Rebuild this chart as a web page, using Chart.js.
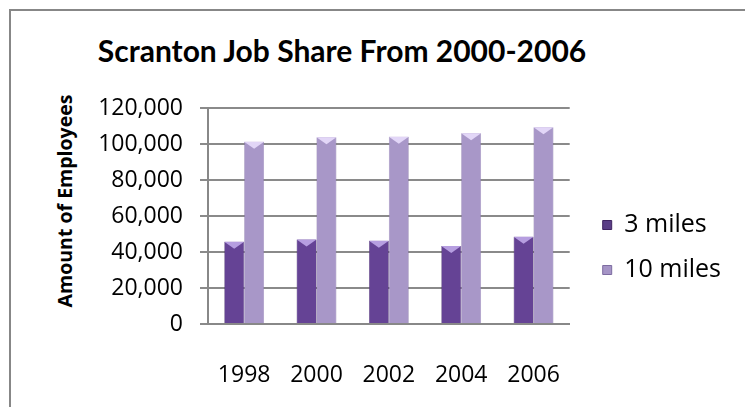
<!DOCTYPE html>
<html>
<head>
<meta charset="utf-8">
<script src="https://cdn.jsdelivr.net/npm/chart.js@4"></script>
<style>
  body { margin: 0; background: #fff; width: 745px; height: 407px; overflow: hidden; position: relative; }
  #frame { position: absolute; left: 9px; top: 9px; width: 800px; height: 500px; border: 2px solid #878787; box-sizing: border-box; }
  #title { position: absolute; left: 0; width: 684px; top: 32px; text-align: center; font: bold 30px Lato, sans-serif; color: #000; }
  #ytitle { position: absolute; left: 64px; top: 201px; transform: translate(-50%, -50%) rotate(-90deg); white-space: nowrap; font: bold 19.5px "Open Sans", sans-serif; color: #000; }
  #wrap { position: absolute; left: 10px; top: 10px; width: 735px; height: 397px; }
</style>
</head>
<body>
<div id="frame"></div>
<div id="title">Scranton Job Share From 2000-2006</div>
<div id="ytitle">Amount of Employees</div>
<div id="wrap"><canvas id="chart"></canvas></div>
<script>
const years = ['1998', '2000', '2002', '2004', '2006'];
const threeMiles = [45700, 47000, 46300, 43400, 48500];
const tenMiles = [101300, 103700, 104000, 106000, 109300];
const yTicks = [0, 20000, 40000, 60000, 80000, 100000, 120000];

const styles = {
  '3 miles': { dark: '#3f2361', mid: '#654395', top: '#b69ee0', legend: '#5a3d86' },
  '10 miles': { dark: '#7d6ca1', mid: '#a897c8', top: '#e2d6f7', legend: '#a594c6' }
};

// horizontal gradient so the bars look a bit rounded
function barFill(ctx) {
  const chart = ctx.chart;
  const bar = chart.getDatasetMeta(ctx.datasetIndex).data[ctx.dataIndex];
  const s = styles[ctx.dataset.label];
  if (!bar || bar.width === undefined || isNaN(bar.x)) return s.mid;
  const left = bar.x - bar.width / 2;
  const g = chart.ctx.createLinearGradient(left, 0, left + bar.width, 0);
  g.addColorStop(0, s.dark);
  g.addColorStop(0.3, s.mid);
  g.addColorStop(0.7, s.mid);
  g.addColorStop(1, s.dark);
  return g;
}

// lighter bevel on top of each bar
const bevel = {
  id: 'bevel',
  afterDatasetsDraw(chart) {
    const c = chart.ctx;
    chart.data.datasets.forEach((ds, i) => {
      const s = styles[ds.label];
      chart.getDatasetMeta(i).data.forEach(bar => {
        const l = bar.x - bar.width / 2, r = bar.x + bar.width / 2;
        c.save();
        c.fillStyle = s.top;
        c.beginPath();
        c.moveTo(l, bar.y);
        c.lineTo(r, bar.y);
        c.lineTo(bar.x, bar.y + 7);
        c.closePath();
        c.fill();
        c.restore();
      });
    });
  }
};

// legend sits a bit further from the plot than Chart.js puts it
const legendGap = {
  id: 'legendGap',
  afterLayout(chart) {
    chart.legend.left += 13;
    chart.legend.right += 13;
  }
};

new Chart(document.getElementById('chart'), {
  type: 'bar',
  data: {
    labels: years,
    datasets: [
      { label: '3 miles', data: threeMiles, backgroundColor: barFill, borderColor: '#3d245c', borderWidth: 0.5 },
      { label: '10 miles', data: tenMiles, backgroundColor: barFill, borderColor: '#7a699c', borderWidth: 0.5 }
    ]
  },
  options: {
    responsive: true,
    maintainAspectRatio: false,
    animation: false,
    layout: { padding: { top: 98, left: 42, right: 27, bottom: 20 } },
    datasets: { bar: { categoryPercentage: 0.55, barPercentage: 1 } },
    plugins: {
      tooltip: { enabled: false },
      legend: {
        position: 'right',
        labels: {
          font: { family: 'Open Sans', size: 25 },
          color: '#000',
          boxWidth: 9,
          boxHeight: 9,
          padding: 20,
          generateLabels(chart) {
            return chart.data.datasets.map((ds, i) => ({
              text: ds.label,
              fillStyle: styles[ds.label].legend,
              strokeStyle: styles[ds.label].dark,
              lineWidth: 1,
              datasetIndex: i,
              fontColor: '#000'
            }));
          }
        }
      }
    },
    scales: {
      x: {
        afterFit(axis) { axis.height = 63; },
        grid: { display: false, drawTicks: false },
        border: { color: '#888', width: 2 },
        ticks: { font: { family: 'Open Sans', size: 23 }, color: '#000', padding: 38 }
      },
      y: {
        min: 0,
        max: 120000,
        afterFit(axis) { axis.width = 156; },
        afterBuildTicks(axis) { axis.ticks = yTicks.map(v => ({ value: v })); },
        grid: { color: '#8a8a8a', lineWidth: 2, tickLength: 8, tickColor: '#8a8a8a' },
        border: { color: '#888', width: 2 },
        ticks: {
          font: { family: 'Open Sans', size: 23 },
          color: '#000',
          padding: 17,
          callback: v => v.toLocaleString('en-US')
        }
      }
    }
  },
  plugins: [bevel, legendGap]
});
</script>
</body>
</html>
